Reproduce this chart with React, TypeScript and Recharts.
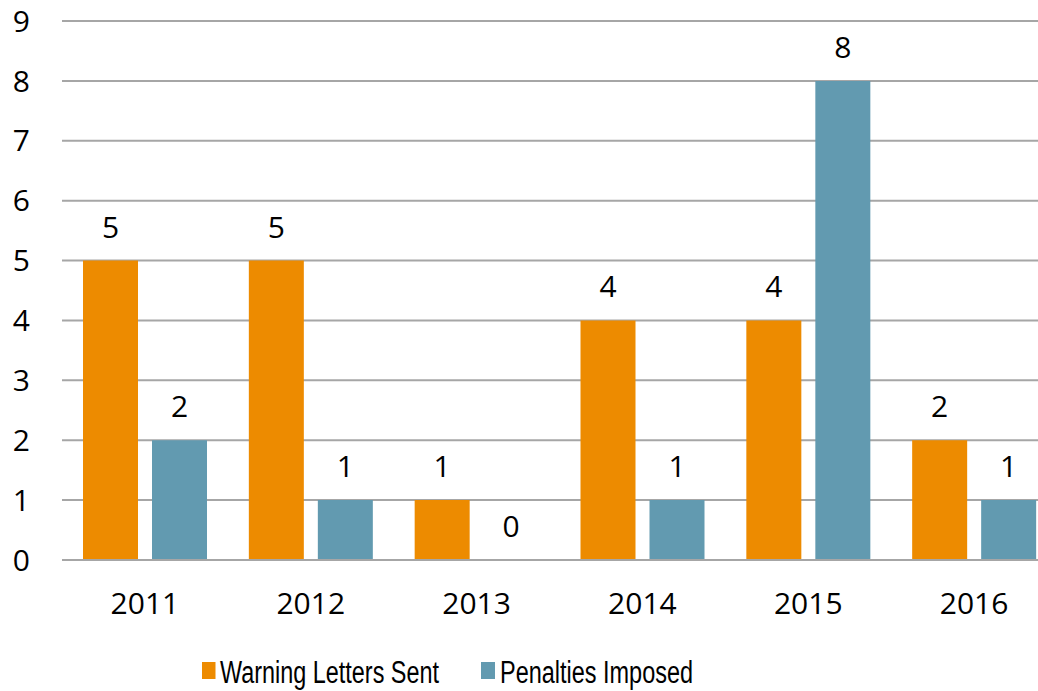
import React from "react";
import { BarChart, Bar, XAxis, YAxis, CartesianGrid, LabelList, Legend } from "recharts";

const years = ["2011", "2012", "2013", "2014", "2015", "2016"];
const warningLetters = [5, 5, 1, 4, 4, 2];
const penalties = [2, 1, 0, 1, 8, 1];
const yTicks = [0, 1, 2, 3, 4, 5, 6, 7, 8, 9];
const seriesNames = ["Warning Letters Sent", "Penalties Imposed"];

const data = years.map((y, i) => ({ year: y, warning: warningLetters[i], penalties: penalties[i] }));

const ORANGE = "#ED8B00";
const BLUE = "#629AB0";
const GRID = "#A6A6A6";
const FONT = "'Open Sans', sans-serif";

const legendLayout = [
  { x: 202, w: 13.5, tx: 220, tl: 219 },
  { x: 481, w: 14, tx: 500, tl: 193 },
];

const LegendContent = (props: any) => {
  const payload = [...(props.payload || [])].sort(
    (a: any, b: any) => seriesNames.indexOf(a.value) - seriesNames.indexOf(b.value)
  );
  return (
    <svg width={1060} height={40} style={{ display: "block" }}>
      {payload.map((p: any, i: number) => {
        const l = legendLayout[i] || legendLayout[0];
        return (
          <g key={i}>
            <rect x={l.x} y={12} width={l.w} height={17} fill={p.color} />
            <text
              x={l.tx}
              y={33}
              fontFamily="'Liberation Sans', Arial, sans-serif"
              fontSize={31}
              fill="#000"
              textLength={l.tl}
              lengthAdjust="spacingAndGlyphs"
            >
              {p.value}
            </text>
          </g>
        );
      })}
    </svg>
  );
};

export default function App() {
  return (
    <div style={{ position: "absolute", left: 0, top: 0, width: 1038, height: 691, overflow: "hidden", background: "#fff" }}>
      <BarChart
        width={1060}
        height={691}
        data={data}
        margin={{ top: 21, right: 3, bottom: 1, left: 0 }}
        barSize={55}
        barGap={14}
      >
        <CartesianGrid vertical={false} stroke={GRID} strokeWidth={2} />
        <XAxis
          dataKey="year"
          tickLine={false}
          axisLine={{ stroke: GRID, strokeWidth: 2 }}
          tickSize={0}
          tickMargin={33}
          height={90}
          tick={{ fill: "#000", fontSize: 30, fontFamily: FONT }}
        />
        <YAxis
          type="number"
          domain={[0, 9]}
          ticks={yTicks}
          interval={0}
          width={62}
          tickLine={false}
          axisLine={false}
          tickSize={0}
          tickMargin={32}
          tick={{ fill: "#000", fontSize: 30, fontFamily: FONT }}
        />
        <Legend verticalAlign="bottom" height={40} itemSorter={null as any} content={<LegendContent />} />
        <Bar dataKey="warning" name={seriesNames[0]} fill={ORANGE} minPointSize={0.01} isAnimationActive={false}>
          <LabelList dataKey="warning" position="top" offset={23} fill="#000" fontSize={30} fontFamily={FONT} />
        </Bar>
        <Bar dataKey="penalties" name={seriesNames[1]} fill={BLUE} minPointSize={0.01} isAnimationActive={false}>
          <LabelList dataKey="penalties" position="top" offset={23} fill="#000" fontSize={30} fontFamily={FONT} />
        </Bar>
      </BarChart>
    </div>
  );
}
